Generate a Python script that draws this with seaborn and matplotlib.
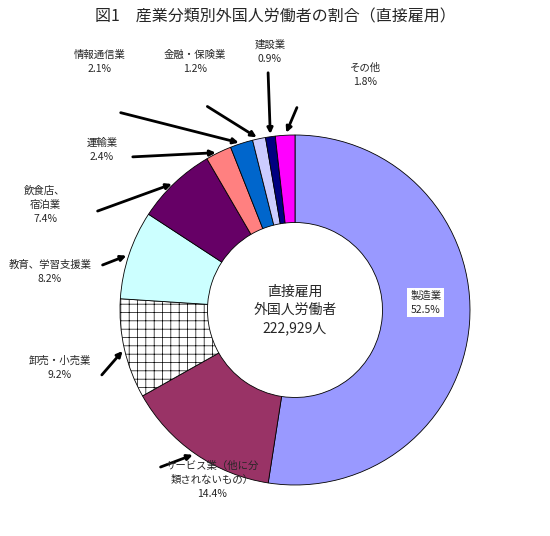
import numpy as np
import matplotlib.pyplot as plt
import seaborn as sns

sns.set_style("white")
plt.rcParams['font.family'] = ['Noto Sans CJK JP', 'DejaVu Sans']
plt.rcParams['hatch.linewidth'] = 0.5

industries = ['製造業', 'サービス業（他に分\n類されないもの）', '卸売・小売業', '教育、学習支援業',
              '飲食店、\n宿泊業', '運輸業', '情報通信業', '金融・保険業', '建設業', 'その他']
shares = [52.5, 14.4, 9.2, 8.2, 7.4, 2.4, 2.1, 1.2, 0.9, 1.8]
colors = ['#9999FF', '#993366', '#FFFFFF', '#CCFFFF', '#660066',
          '#FF8080', '#0066CC', '#CCCCFF', '#000080', '#FF00FF']

W, H = 550, 536
fig = plt.figure(figsize=(W / 100, H / 100), dpi=100)
cx, cy, r = 295, 310, 175
ax = fig.add_axes([(cx - r) / W, 1 - (cy + r) / H, 2 * r / W, 2 * r / H])

wedges, _ = ax.pie(shares, colors=colors, startangle=90, counterclock=False,
                   radius=1.0, wedgeprops=dict(width=0.5, edgecolor='black', linewidth=0.6))
wedges[2].set_hatch('++')
ax.set_aspect('equal')
ax.set_xlim(-1, 1)
ax.set_ylim(-1, 1)
ax.axis('off')

ax.text(0, 0, '直接雇用\n外国人労働者\n222,929人', ha='center', va='center',
        fontsize=10, linespacing=1.4)

# label positions in pixels (text centre), arrow start in pixels
label_pos = {
    1: ((212, 480), (158, 468)),
    2: ((60, 368), (100, 377)),
    3: ((50, 272), (100, 266)),
    4: ((45, 205), (95, 212)),
    5: ((102, 150), (130, 157)),
    6: ((100, 62), (118, 112)),
    7: ((195, 62), (205, 105)),
    8: ((270, 52), (268, 70)),
    9: ((365, 75), (298, 105)),
}

def to_fig(p):
    return (p[0] / W, 1 - p[1] / H)

total = sum(shares)
start = 90.0
mids = []
for s in shares:
    ang = start - 360 * s / total / 2
    mids.append(np.deg2rad(ang))
    start -= 360 * s / total

for i, ((tx, ty), arrow_start) in label_pos.items():
    fig.text(*to_fig((tx, ty)), f'{industries[i]}\n{shares[i]}%', ha='center', va='center',
             fontsize=7.5, linespacing=1.5)
    a = mids[i]
    tip = (np.cos(a) * 1.0, np.sin(a) * 1.0)
    ax.annotate('', xy=tip, xycoords='data', xytext=to_fig(arrow_start),
                textcoords='figure fraction',
                arrowprops=dict(arrowstyle='-|>', color='black', lw=2, mutation_scale=8))

a = mids[0]
ax.text(np.cos(a) * 0.75, np.sin(a) * 0.75 + 0.1, f'{industries[0]}\n{shares[0]}%', ha='center',
        va='center', fontsize=7.5, linespacing=1.5,
        bbox=dict(facecolor='white', edgecolor='none', pad=2))

fig.text(0.5, 1 - 17 / H, '図1　産業分類別外国人労働者の割合（直接雇用）', ha='center', va='center',
         fontsize=11.5)

fig.savefig('out.png', dpi=100)
